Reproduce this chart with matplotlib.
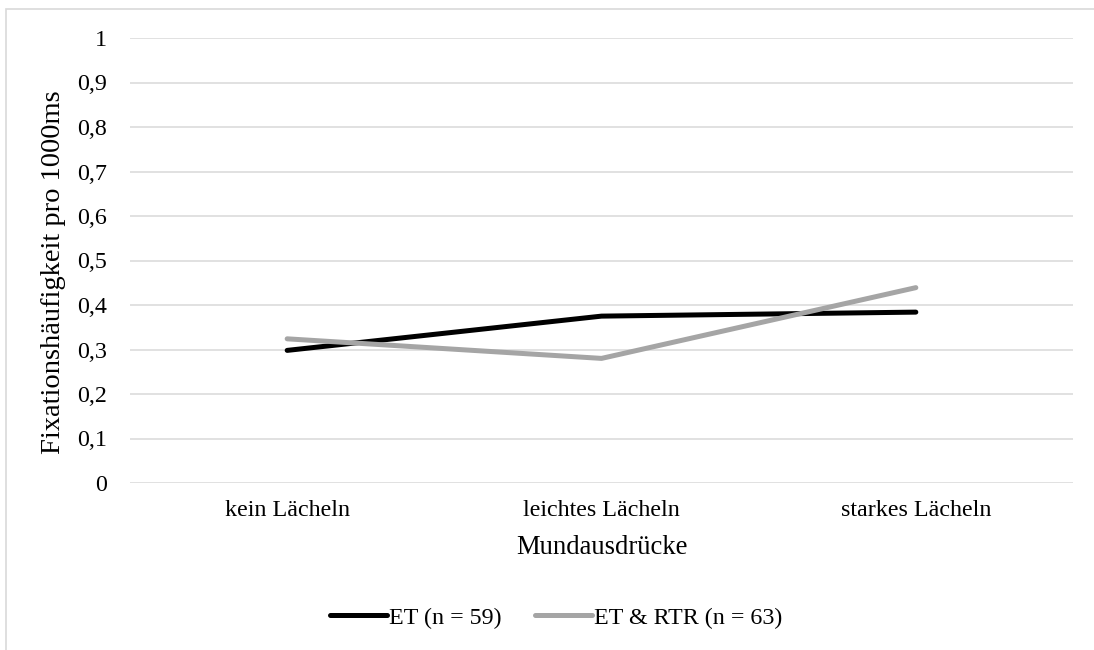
import matplotlib.pyplot as plt
from matplotlib.patches import Rectangle

# Data
categories = ['kein Lächeln', 'leichtes Lächeln', 'starkes Lächeln']
et_values = [0.298, 0.375, 0.384]
et_rtr_values = [0.324, 0.280, 0.439]
series_labels = ['ET (n = 59)', 'ET & RTR (n = 63)']
y_ticks = [i / 10 for i in range(11)]
y_tick_labels = ['0', '0,1', '0,2', '0,3', '0,4', '0,5', '0,6', '0,7', '0,8', '0,9', '1']

plt.rcParams['font.family'] = ['Liberation Serif', 'DejaVu Serif']
fs = 17.3        # ticks and legend
fs_title = 19.2  # axis titles

fig = plt.figure(figsize=(10.94, 6.5), dpi=100)
W, H = 1094, 650

# outer chart border (Excel style)
fig.patches.append(Rectangle((5.5 / W, -0.1), 1.2, 1 - 8.5 / H + 0.1,
                             transform=fig.transFigure, fill=False,
                             edgecolor='#D9D9D9', linewidth=1.2))

ax = fig.add_axes([130 / W, 1 - 483 / H, 943 / W, 445 / H])

x = list(range(len(categories)))
ax.plot(x, et_values, color='black', linewidth=3.6, solid_capstyle='round',
        label=series_labels[0])
ax.plot(x, et_rtr_values, color='#A5A5A5', linewidth=3.6, solid_capstyle='round',
        label=series_labels[1])

ax.set_xlim(-0.5, len(categories) - 0.5)
ax.set_ylim(0, 1)
ax.set_yticks(y_ticks)
ax.set_yticklabels(y_tick_labels, fontsize=fs)
ax.set_xticks(x)
ax.set_xticklabels(categories, fontsize=fs)
ax.tick_params(axis='y', length=0, pad=16.5)
ax.tick_params(axis='x', length=0, pad=12)

ax.grid(axis='y', color='#D9D9D9', linewidth=1.1)
ax.set_axisbelow(True)
for s in ax.spines.values():
    s.set_visible(False)

ax.set_ylabel('Fixationshäufigkeit pro 1000ms', fontsize=20.5)
ax.yaxis.set_label_coords(-0.068, 0.474)
ax.set_xlabel('Mundausdrücke', fontsize=fs_title)
ax.xaxis.set_label_coords(0.5, -0.117)

ax.legend(loc='center', bbox_to_anchor=(0.452, -0.303), ncol=2, frameon=False,
          fontsize=fs, handlelength=2.35, handletextpad=0.1, columnspacing=1.4)

fig.savefig('out.png', dpi=100)
